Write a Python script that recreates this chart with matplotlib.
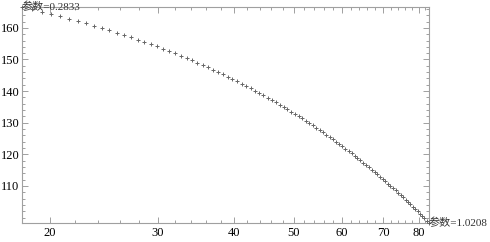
import matplotlib as mpl; mpl.use('Agg')
import matplotlib.pyplot as plt
from matplotlib.ticker import NullFormatter

# data (x on log scale)
x_vals = [
    18.00, 18.70, 19.40, 20.10, 20.80, 21.51, 22.21, 22.91, 23.61, 24.31,
    25.01, 25.71, 26.41, 27.11, 27.82, 28.52, 29.22, 29.92, 30.62, 31.32,
    32.02, 32.72, 33.42, 34.12, 34.83, 35.53, 36.23, 36.93, 37.63, 38.33,
    39.03, 39.73, 40.43, 41.14, 41.84, 42.54, 43.24, 43.94, 44.64, 45.34,
    46.04, 46.74, 47.45, 48.15, 48.85, 49.55, 50.25, 50.95, 51.65, 52.35,
    53.05, 53.76, 54.46, 55.16, 55.86, 56.56, 57.26, 57.96, 58.66, 59.36,
    60.06, 60.77, 61.47, 62.17, 62.87, 63.57, 64.27, 64.97, 65.67, 66.37,
    67.08, 67.78, 68.48, 69.18, 69.88, 70.58, 71.28, 71.98, 72.68, 73.39,
    74.09, 74.79, 75.49, 76.19, 76.89, 77.59, 78.29, 78.99, 79.70, 80.40,
    81.10, 81.80, 82.50, 83.20,
]
y_vals = [
    166.60, 165.87, 165.13, 164.40, 163.66, 162.93, 162.19, 161.46, 160.72, 159.99,
    159.26, 158.52, 157.79, 157.05, 156.32, 155.58, 154.85, 154.12, 153.38, 152.65,
    151.91, 151.18, 150.44, 149.71, 148.97, 148.24, 147.51, 146.77, 146.04, 145.30,
    144.57, 143.83, 143.10, 142.36, 141.63, 140.90, 140.16, 139.43, 138.69, 137.96,
    137.22, 136.49, 135.76, 135.02, 134.29, 133.55, 132.82, 132.08, 131.35, 130.61,
    129.88, 129.15, 128.41, 127.68, 126.94, 126.21, 125.47, 124.74, 124.00, 123.27,
    122.54, 121.80, 121.07, 120.33, 119.60, 118.86, 118.13, 117.39, 116.66, 115.93,
    115.19, 114.46, 113.72, 112.99, 112.25, 111.52, 110.78, 110.05, 109.32, 108.58,
    107.85, 107.11, 106.38, 105.64, 104.91, 104.18, 103.44, 102.71, 101.97, 101.24,
    100.50, 99.77, 99.03, 98.30,
]
end_labels = ['参数=0.2833', '参数=1.0208']

x_major = [20, 30, 40, 50, 60, 70, 80]
x_minor = [18, 22, 24, 26, 28, 32, 34, 36, 38, 42, 44, 46, 48,
           52, 54, 56, 58, 62, 64, 66, 68, 72, 74, 76, 78, 82]
y_major = [110, 120, 130, 140, 150, 160]
y_minor = [100, 102, 104, 106, 108, 112, 114, 116, 118, 122, 124, 126, 128,
           132, 134, 136, 138, 142, 144, 146, 148, 152, 154, 156, 158, 162, 164, 166]

FONTS = ['Liberation Serif', 'Noto Sans CJK SC']
plt.rcParams['font.family'] = FONTS

fig = plt.figure(figsize=[4.9, 2.42], dpi=100)
ax = fig.add_axes([22/490, 19/242, 407/490, 216/242])

ax.plot(x_vals, y_vals, linestyle='none', marker='+', markersize=3.4,
        markeredgewidth=0.7, color='#666666', clip_on=False, zorder=3)

ax.set_xscale('log')
ax.set_xlim(x_vals[0], x_vals[-1])
ax.set_ylim(y_vals[-1], y_vals[0])

ax.set_xticks(x_major)
ax.set_xticklabels([str(v) for v in x_major])
ax.set_xticks(x_minor, minor=True)
ax.xaxis.set_minor_formatter(NullFormatter())
ax.set_yticks(y_major)
ax.set_yticks(y_minor, minor=True)

# frame style
frame_c = '#a0a0a0'
for s in ax.spines.values():
    s.set_color(frame_c)
    s.set_linewidth(0.8)
ax.tick_params(which='both', direction='in', top=True, right=True,
               color=frame_c, width=0.7, labelsize=9, labelcolor='black')
ax.tick_params(which='major', length=4.0)
ax.tick_params(which='minor', length=2.2)
ax.tick_params(axis='x', pad=3)
ax.tick_params(axis='y', pad=2)

# end annotations
ax.text(x_vals[0], y_vals[0], end_labels[0], ha='left', va='center',
        fontsize=8, color='#333333', clip_on=False, zorder=4)
ax.text(x_vals[-1], y_vals[-1], end_labels[1], ha='left', va='center',
        fontsize=8, color='#333333', clip_on=False, zorder=4)

fig.savefig('out.png', dpi=100)
